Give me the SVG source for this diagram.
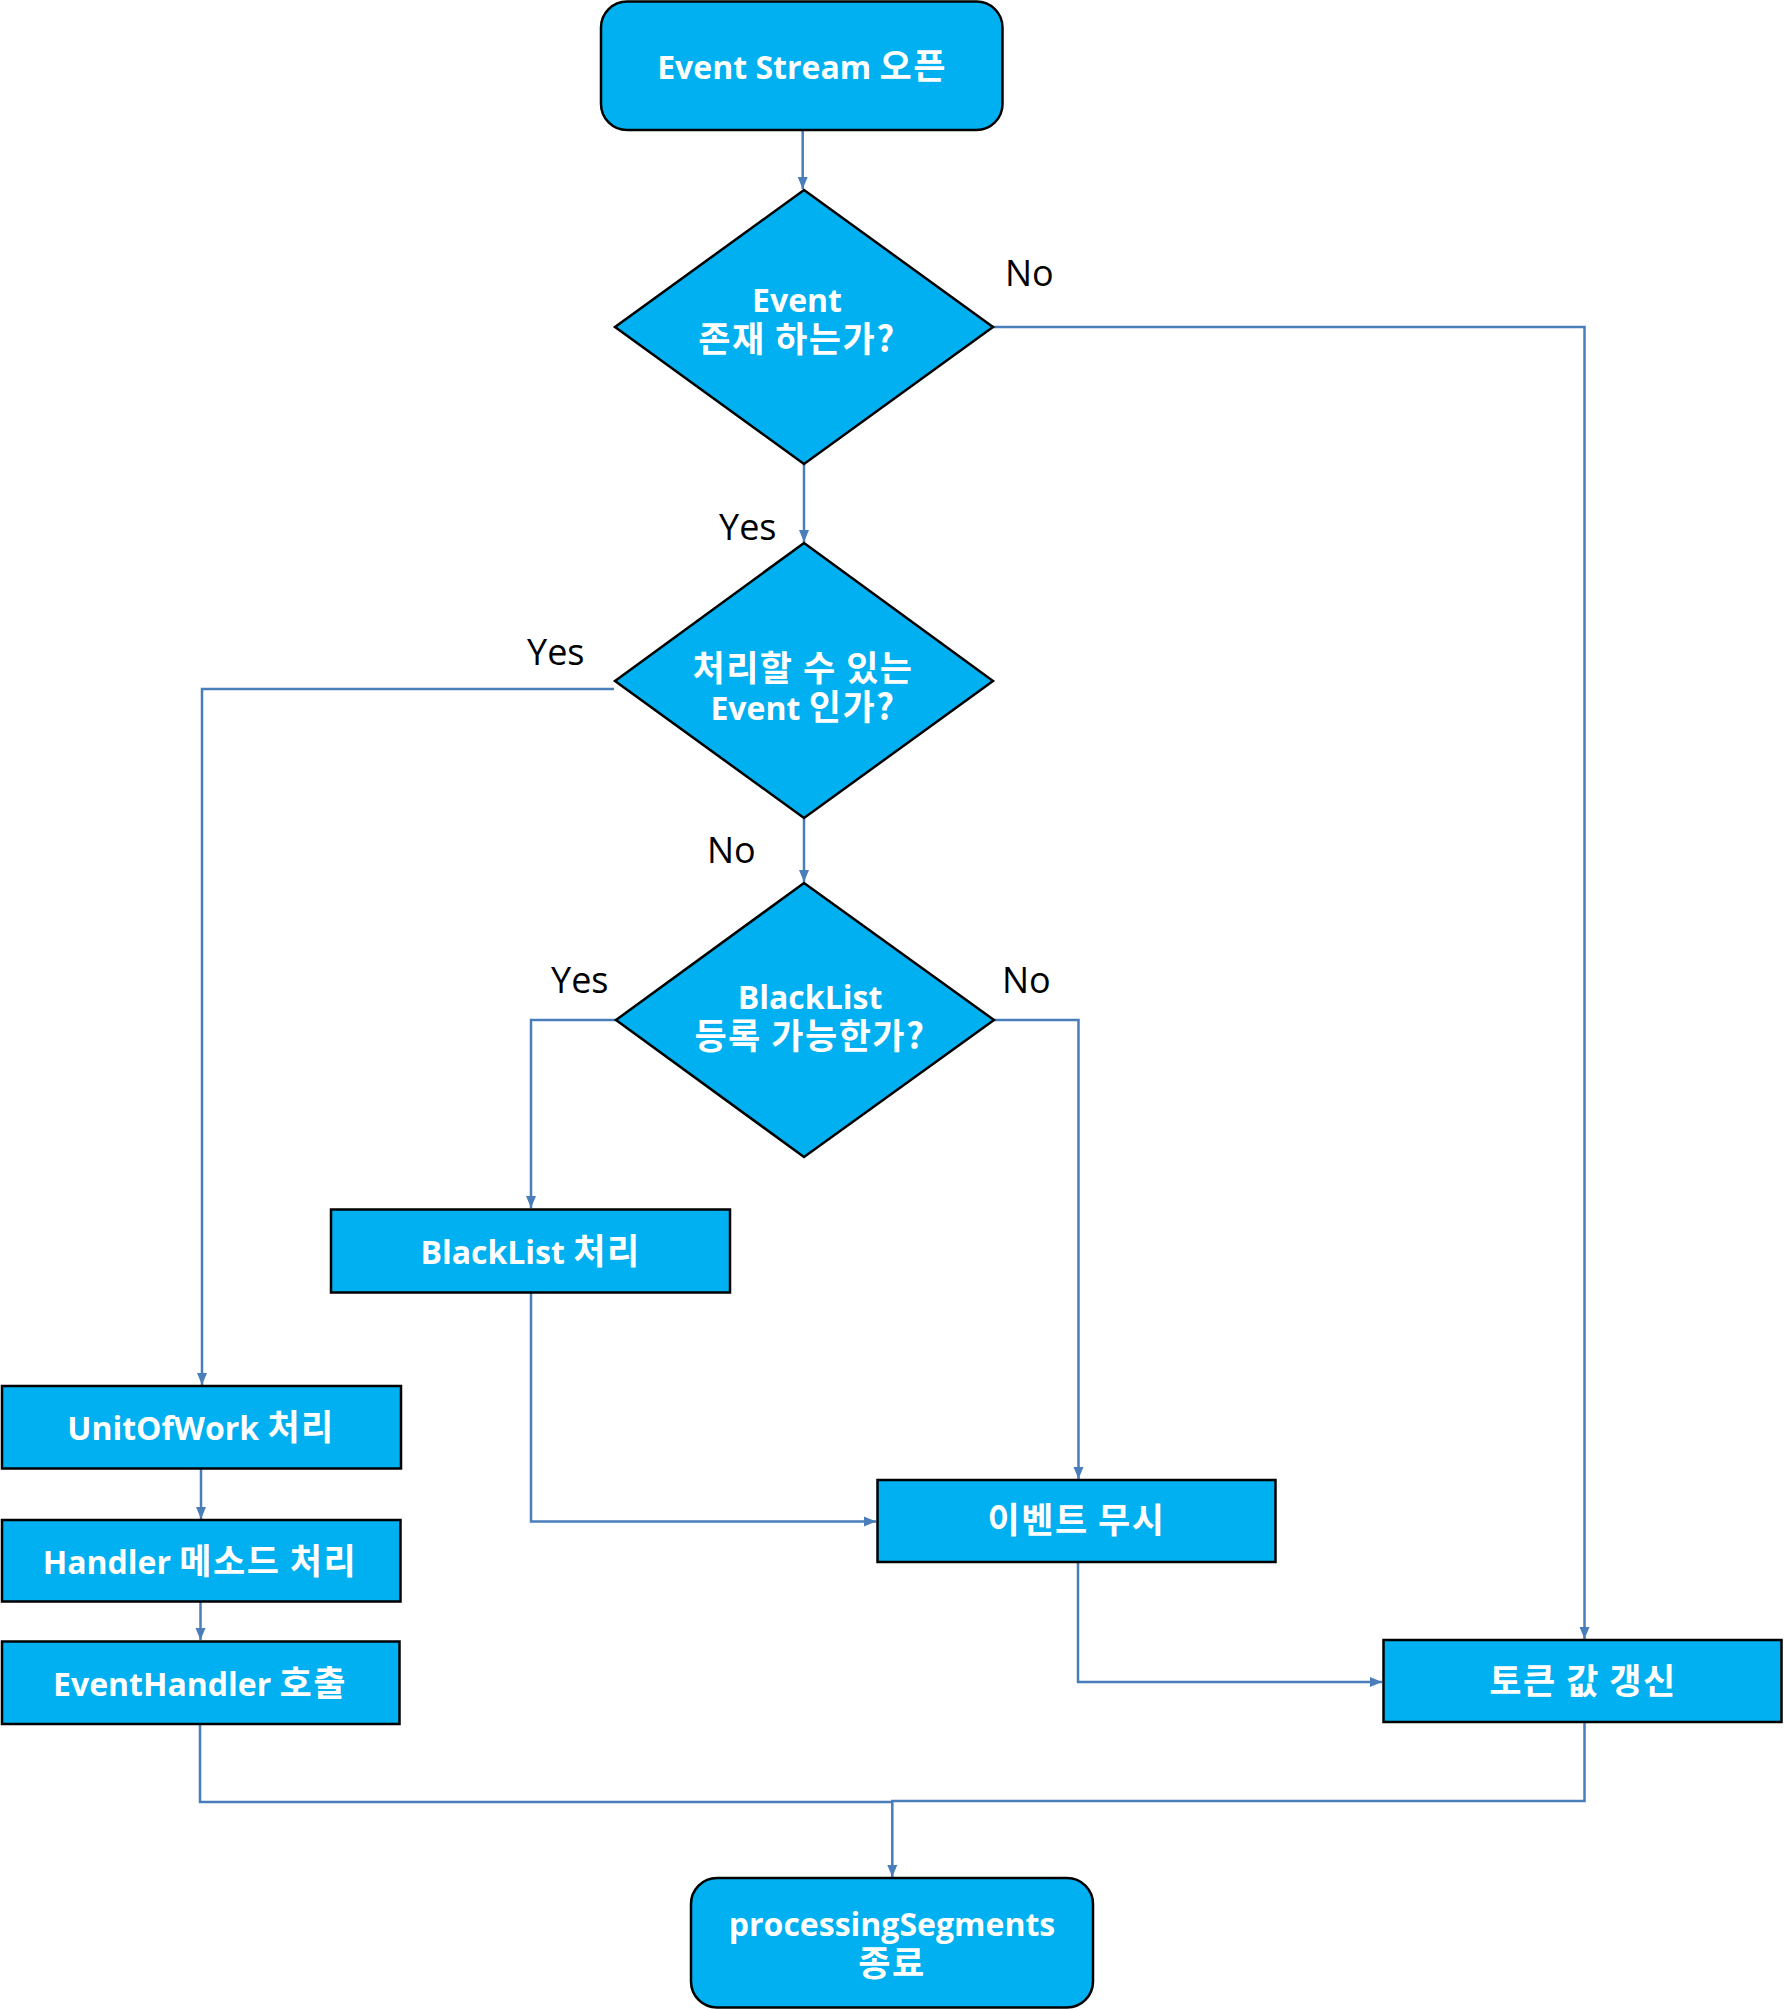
<svg xmlns="http://www.w3.org/2000/svg" width="1784" height="2010" viewBox="0 0 1784 2010">
<defs>
<marker id="arr" markerUnits="userSpaceOnUse" markerWidth="12" markerHeight="12" viewBox="0 0 12 12" refX="12" refY="6" orient="auto">
<path d="M0,1 L12,6 L0,11 Z" fill="#4A7EBB"/>
</marker>
<style>
.node{fill:#00B0F0;stroke:#000;stroke-width:2.5}
.nt{font-family:"Open Sans","Noto Sans CJK KR",sans-serif;font-weight:bold;font-size:32px;fill:#fff;text-anchor:middle}
.k{font-family:"Noto Sans CJK KR",sans-serif;font-size:35px;letter-spacing:1.5px}
.lbl{font-family:"Open Sans","Noto Sans CJK KR",sans-serif;font-size:36px;fill:#000}
.c{fill:none;stroke:#4A7EBB;stroke-width:2.5;marker-end:url(#arr)}
.cn{fill:none;stroke:#4A7EBB;stroke-width:2.5}
</style>
</defs>
<rect width="1784" height="2010" fill="#fff"/>
<g id="connectors">
<path class="c" d="M802.7,130 V189"/>
<path class="c" d="M993,327 H1584.5 V1639"/>
<path class="c" d="M804,464 V542"/>
<path class="c" d="M614,689 H202 V1385"/>
<path class="c" d="M804,818 V882"/>
<path class="c" d="M616,1020 H531 V1208"/>
<path class="c" d="M994,1020 H1078.5 V1479"/>
<path class="c" d="M531,1293 V1521.5 H876"/>
<path class="c" d="M1078,1563 V1682 H1382"/>
<path class="c" d="M201,1469 V1519"/>
<path class="c" d="M200.5,1602 V1640"/>
<path class="cn" d="M200,1724 V1802 H892.3"/>
<path class="c" d="M1584.5,1723 V1801 H892.3 V1877"/>
</g>
<g id="n-start">
<rect class="node" x="601" y="1.5" width="401.5" height="128.5" rx="26" ry="26"/>
<text class="nt" x="802" y="79" font-size="33">Event Stream <tspan class="k">오픈</tspan></text>
</g>
<g id="n-d1">
<polygon class="node" points="804,190 993,327 804,464 615,327"/>
<text class="nt" x="797" y="312">Event</text>
<text class="nt" x="797" y="352"><tspan class="k">존재 하는가?</tspan></text>
</g>
<g id="n-d2">
<polygon class="node" points="804,543 993,681 804,818 615,681"/>
<text class="nt" x="803" y="681"><tspan class="k">처리할 수 있는</tspan></text>
<text class="nt" x="803" y="720">Event <tspan class="k">인가?</tspan></text>
</g>
<g id="n-d3">
<polygon class="node" points="804,883 994,1020 804,1157 616,1020"/>
<text class="nt" x="810" y="1009">BlackList</text>
<text class="nt" x="810" y="1049"><tspan class="k">등록 가능한가?</tspan></text>
</g>
<g id="n-blacklist">
<rect class="node" x="331" y="1209.5" width="399" height="83"/>
<text class="nt" x="530.5" y="1264" font-size="33">BlackList <tspan class="k">처리</tspan></text>
</g>
<g id="n-ignore">
<rect class="node" x="877.5" y="1480" width="398" height="82"/>
<text class="nt" x="1076.5" y="1533"><tspan class="k">이벤트 무시</tspan></text>
</g>
<g id="n-token">
<rect class="node" x="1383.5" y="1640" width="398" height="82"/>
<text class="nt" x="1583" y="1694"><tspan class="k">토큰 값 갱신</tspan></text>
</g>
<g id="n-uow">
<rect class="node" x="2" y="1386" width="399" height="82.5"/>
<text class="nt" x="201" y="1440" font-size="33">UnitOfWork <tspan class="k">처리</tspan></text>
</g>
<g id="n-handler">
<rect class="node" x="2" y="1520" width="398.5" height="81.5"/>
<text class="nt" x="200" y="1574" font-size="33">Handler <tspan class="k">메소드 처리</tspan></text>
</g>
<g id="n-eventhandler">
<rect class="node" x="2" y="1641.5" width="397.5" height="82.5"/>
<text class="nt" x="200" y="1696" font-size="33">EventHandler <tspan class="k">호출</tspan></text>
</g>
<g id="n-end">
<rect class="node" x="691" y="1878" width="402" height="129.5" rx="26" ry="26"/>
<text class="nt" x="892" y="1936">processingSegments</text>
<text class="nt" x="892" y="1976"><tspan class="k">종료</tspan></text>
</g>
<g id="labels">
<text class="lbl" x="1005" y="286">No</text>
<text class="lbl" x="719" y="540">Yes</text>
<text class="lbl" x="527" y="665">Yes</text>
<text class="lbl" x="707" y="863">No</text>
<text class="lbl" x="551" y="993">Yes</text>
<text class="lbl" x="1002" y="993">No</text>
</g>
</svg>
